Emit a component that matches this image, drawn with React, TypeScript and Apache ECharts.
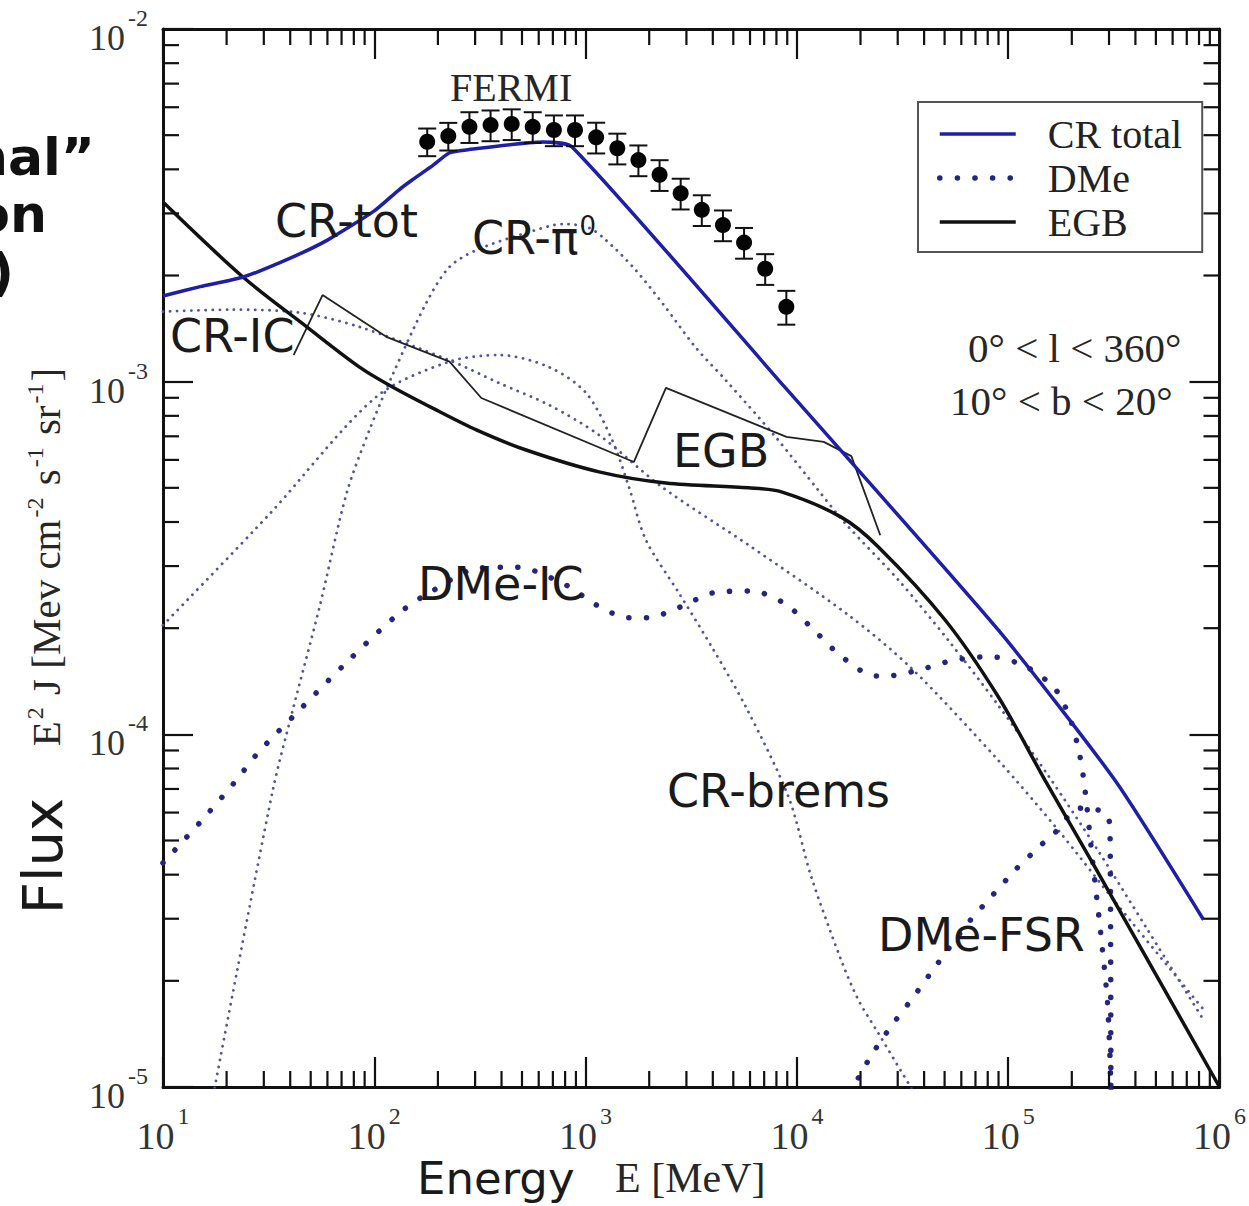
import React, { useEffect, useRef } from 'react';
import * as echarts from 'echarts';

// Axis ranges (log-log)
const X_MIN = 10;
const X_MAX = 1e6;
const Y_MIN = 1e-5;
const Y_MAX = 1e-2;
const xDecades = [1, 2, 3, 4, 5, 6];
const yDecades = [-5, -4, -3, -2];

// Model curves: [E (MeV), E^2 J (MeV cm^-2 s^-1 sr^-1)]
const crTotal: number[][] = [
  [10, 1.75e-3], [15, 1.86e-3], [24, 1.98e-3], [40, 2.24e-3], [60, 2.52e-3], [100, 3.05e-3],
  [131, 3.5e-3], [151, 3.73e-3], [190, 4.11e-3], [226, 4.45e-3], [272, 4.54e-3], [623, 4.78e-3],
  [863, 4.63e-3], [8830, 9.6e-4], [8.95e4, 1.98e-4], [3.19e5, 7.43e-5], [8.4e5, 2.98e-5],
];

const crPi0: number[][] = [
  [17.3, 9.5e-6], [33.1, 6.95e-5], [41.1, 1.17e-4], [55.1, 2.3e-4], [74, 4.83e-4], [94.9, 7.3e-4],
  [122, 1.045e-3], [176, 1.67e-3], [226, 2.11e-3], [304, 2.36e-3], [523, 2.64e-3], [791, 2.8e-3],
  [1038, 2.73e-3], [1248, 2.52e-3], [1693, 2.1e-3], [2344, 1.65e-3], [3319, 1.25e-3], [4603, 1.01e-3],
  [7925, 6.97e-4], [1.26e4, 4.93e-4], [1.69e4, 3.97e-4], [3.02e4, 2.74e-4], [5.2e4, 1.85e-4],
  [8.96e4, 1.21e-4], [1.54e5, 7.67e-5], [2.65e5, 4.7e-5], [4.57e5, 2.79e-5], [8.4e5, 1.55e-5],
];

const crIC: number[][] = [
  [10, 1.58e-3], [20.7, 1.6e-3], [44.3, 1.57e-3], [85, 1.43e-3], [227, 1.15e-3], [390, 9.91e-4],
  [671, 8.59e-4], [1157, 7.06e-4], [2296, 5.03e-4], [5907, 3.44e-4], [1.75e4, 2.18e-4],
  [3.48e4, 1.54e-4], [8.96e4, 8.45e-5], [1.72e5, 5.36e-5], [3.3e5, 3.28e-5], [8.4e5, 1.66e-5],
];

const crBrems: number[][] = [
  [10, 2.04e-4], [32, 4.22e-4], [102, 9.05e-4], [227, 1.14e-3], [390, 1.19e-3], [671, 1.1e-3],
  [1005, 9.29e-4], [1334, 6.84e-4], [1603, 5.03e-4], [1928, 3.56e-4], [2761, 2.52e-4],
  [3953, 1.77e-4], [5716, 1.2e-4], [9120, 6.65e-5], [1.17e4, 3.94e-5], [1.62e4, 2.29e-5],
  [1.95e4, 1.77e-5], [2.43e4, 1.42e-5], [3.56e4, 9.7e-6],
];

const dmeIC: number[][] = [
  [10, 4.32e-5], [14.9, 5.61e-5], [21.9, 7.33e-5], [28.1, 8.85e-5], [42.9, 1.15e-4], [74, 1.6e-4],
  [131.6, 2.21e-4], [182, 2.52e-4], [314, 2.96e-4], [469, 2.98e-4], [808, 2.65e-4], [1120, 2.33e-4],
  [1603, 2.14e-4], [1950, 2.14e-4], [2820, 2.3e-4], [4035, 2.52e-4], [6040, 2.55e-4], [8650, 2.36e-4],
  [1.17e4, 2.01e-4], [1.54e4, 1.71e-4], [2.11e4, 1.49e-4], [2.56e4, 1.46e-4], [3.75e4, 1.52e-4],
  [5.48e4, 1.62e-4], [8.2e4, 1.66e-4], [1.2e5, 1.56e-4], [1.66e5, 1.35e-4], [1.96e5, 1.11e-4],
  [2.18e5, 8.74e-5], [2.31e5, 6.95e-5], [2.51e5, 4.35e-5], [2.74e5, 2.73e-5], [2.96e5, 1.69e-5],
  [3.07e5, 9.5e-6],
];

const dmeFSR: number[][] = [
  [1.78e4, 9.6e-6], [2.25e4, 1.23e-5], [2.8e4, 1.49e-5], [3.56e4, 1.8e-5], [4.51e4, 2.19e-5],
  [6.46e4, 2.92e-5], [8.3e4, 3.46e-5], [1.09e5, 4.15e-5], [1.45e5, 4.89e-5], [1.66e5, 5.25e-5],
  [2.14e5, 6.18e-5], [2.86e5, 6.03e-5], [3.03e5, 5.54e-5], [3.06e5, 9.5e-6],
];

const egbModel: number[][] = [
  [10, 3.23e-3], [23.9, 1.98e-3], [47.9, 1.43e-3], [85.1, 1.1e-3], [122, 9.66e-4], [192, 8.37e-4],
  [304, 7.3e-4], [523, 6.4e-4], [1157, 5.55e-4], [2400, 5.16e-4], [5900, 5.0e-4], [8450, 4.87e-4],
  [1.62e4, 4.13e-4], [2.43e4, 3.4e-4], [5.03e4, 2.11e-4], [8.96e4, 1.28e-4], [1.49e5, 7.43e-5],
  [2.57e5, 4.21e-5], [1e6, 1e-5],
];

const egbData: number[][] = [
  [41.5, 1.19e-3], [56.9, 1.76e-3], [114, 1.34e-3], [227, 1.14e-3], [321, 8.99e-4], [1693, 5.92e-4],
  [2400, 9.6e-4], [8930, 6.97e-4], [1.34e4, 6.75e-4], [1.81e4, 6.15e-4], [2.48e4, 3.67e-4],
];

// FERMI measurements with relative 1-sigma errors
const fermiE = [178, 224, 282, 355, 447, 562, 708, 891, 1122, 1413, 1778, 2239, 2818, 3548, 4467, 5623, 7079, 8913];
const fermiFlux = [
  4.79e-3, 4.97e-3, 5.28e-3, 5.34e-3, 5.38e-3, 5.28e-3, 5.17e-3, 5.17e-3, 4.93e-3,
  4.59e-3, 4.25e-3, 3.86e-3, 3.42e-3, 3.07e-3, 2.78e-3, 2.48e-3, 2.09e-3, 1.63e-3,
];
const fermiSigma = [0.09, 0.09, 0.1, 0.1, 0.1, 0.1, 0.1, 0.1, 0.1, 0.1, 0.1, 0.1, 0.1, 0.1, 0.1, 0.1, 0.1, 0.11];

const INK = '#111111';
const BLUE = '#1f1fa6';
const DOT_THIN = '#5252a2';
const DOT_BIG = '#25257e';
const SANS = 'DejaVu Sans';
const SERIF = 'Liberation Serif';
const MINOR_LEN = 16;
const MAJOR_LEN = 30;

function expLabel(v: number) {
  return `{b|10}{s|${Math.round(Math.log10(v))}}`;
}

function buildOption() {
  const minorX: number[][] = [];
  xDecades.slice(0, -1).forEach((d) => {
    for (let m = 2; m <= 9; m++) minorX.push([m * Math.pow(10, d), Y_MIN]);
  });
  const minorY: number[][] = [];
  yDecades.slice(0, -1).forEach((d) => {
    for (let m = 2; m <= 9; m++) minorY.push([X_MIN, m * Math.pow(10, d)]);
  });

  const axisBase = {
    type: 'log',
    logBase: 10,
    axisLine: { show: true, onZero: false, lineStyle: { color: INK, width: 3 } },
    axisTick: { show: true, inside: true, length: MAJOR_LEN, lineStyle: { color: INK, width: 2.2 } },
    splitLine: { show: false },
    minorTick: { show: false },
  };

  const tickStyle = { stroke: INK, lineWidth: 2.2 };

  const thinDots = { type: [0.1, 7], cap: 'round', width: 2.8, color: DOT_THIN };
  const bigDots = { type: [0.1, 17.5], cap: 'round', width: 5.5, color: DOT_BIG };

  const lineSeries = (name: string, data: number[][], lineStyle: any, z: number, smooth: number | boolean) => ({
    name,
    type: 'line',
    data,
    showSymbol: false,
    symbol: 'none',
    smooth,
    lineStyle,
    itemStyle: { color: lineStyle.color },
    z,
    silent: true,
  });

  const sansText = (text: string, x: number, y: number) => ({
    type: 'text',
    x,
    y,
    z: 20,
    style: {
      text,
      fontFamily: SANS,
      fontSize: 46,
      fill: '#1a1a1a',
      align: 'left',
      verticalAlign: 'middle',
      textAlign: 'left',
      textVerticalAlign: 'middle',
    },
  });

  const serifText = (text: string, x: number, y: number, size: number) => ({
    type: 'text',
    x,
    y,
    z: 20,
    style: {
      text,
      fontFamily: SERIF,
      fontSize: size,
      fill: '#262626',
      align: 'left',
      verticalAlign: 'middle',
      textAlign: 'left',
      textVerticalAlign: 'middle',
    },
  });

  const boldCut = (text: string, x: number, y: number) => ({
    type: 'text',
    x,
    y,
    z: 20,
    style: {
      text,
      fontFamily: SANS,
      fontWeight: 'bold',
      fontSize: 52,
      lineHeight: 44,
      fill: '#111',
      align: 'right',
      verticalAlign: 'middle',
      textAlign: 'right',
      textVerticalAlign: 'middle',
    },
  });

  return {
    animation: false,
    backgroundColor: '#ffffff',
    grid: { left: 163, right: 27, top: 29, bottom: 119, containLabel: false },
    legend: {
      data: ['CR total', 'DMe', 'EGB'],
      orient: 'vertical',
      left: 918,
      top: 102,
      padding: [10, 20, 8, 19],
      itemGap: 0,
      itemWidth: 76,
      itemHeight: 20,
      borderColor: '#555',
      borderWidth: 2,
      borderRadius: 0,
      backgroundColor: '#ffffff',
      selectedMode: false,
      itemStyle: { opacity: 0, borderWidth: 0 },
      lineStyle: { width: 'inherit' },
      textStyle: { fontFamily: SERIF, fontSize: 40, color: '#222', lineHeight: 44, padding: [0, 0, 0, 27] },
      z: 30,
    },
    xAxis: [
      {
        ...axisBase,
        min: X_MIN,
        max: X_MAX,
        position: 'bottom',
        axisLabel: {
          margin: 12,
          formatter: expLabel,
          showMinLabel: true,
          showMaxLabel: true,
          rich: {
            b: { fontFamily: SERIF, fontSize: 38, color: '#333', padding: [18, 0, 0, 0] },
            s: { fontFamily: SERIF, fontSize: 24, color: '#333', padding: [0, 0, 22, 3] },
          },
        },
      },
      { ...axisBase, min: X_MIN, max: X_MAX, position: 'top', axisLabel: { show: false } },
    ],
    yAxis: [
      {
        ...axisBase,
        min: Y_MIN,
        max: Y_MAX,
        position: 'left',
        axisLabel: {
          margin: 15,
          formatter: expLabel,
          showMinLabel: true,
          showMaxLabel: true,
          rich: {
            b: { fontFamily: SERIF, fontSize: 36, color: '#333', padding: [18, 0, 0, 0] },
            s: { fontFamily: SERIF, fontSize: 24, color: '#333', padding: [0, 0, 22, 3] },
          },
        },
      },
      { ...axisBase, min: Y_MIN, max: Y_MAX, position: 'right', axisLabel: { show: false } },
    ],
    series: [
      lineSeries('CR-IC', crIC, thinDots, 2, 0.3),
      lineSeries('CR-π0', crPi0, thinDots, 2, 0.3),
      lineSeries('CR-brems', crBrems, thinDots, 2, 0.3),
      lineSeries('DMe', dmeIC, bigDots, 3, 0.3),
      lineSeries('DMe-FSR', dmeFSR, bigDots, 3, 0.2),
      lineSeries('EGB data', egbData, { color: '#222', width: 1.8 }, 4, false),
      lineSeries('EGB', egbModel, { color: INK, width: 3.5 }, 4, 0.3),
      lineSeries('CR total', crTotal, { color: BLUE, width: 3.5 }, 5, 0.2),
      {
        name: 'FERMI errors',
        type: 'custom',
        z: 6,
        silent: true,
        data: fermiE.map((e, i) => [e, fermiFlux[i] * (1 - fermiSigma[i]), fermiFlux[i] * (1 + fermiSigma[i])]),
        renderItem: (_p: any, api: any) => {
          const e = api.value(0);
          const lo = api.coord([e, api.value(1)]);
          const hi = api.coord([e, api.value(2)]);
          const st = { stroke: INK, lineWidth: 2 };
          return {
            type: 'group',
            children: [
              { type: 'line', shape: { x1: lo[0], y1: lo[1], x2: hi[0], y2: hi[1] }, style: st },
              { type: 'line', shape: { x1: lo[0] - 9, y1: lo[1], x2: lo[0] + 9, y2: lo[1] }, style: st },
              { type: 'line', shape: { x1: hi[0] - 9, y1: hi[1], x2: hi[0] + 9, y2: hi[1] }, style: st },
            ],
          };
        },
      },
      {
        name: 'FERMI',
        type: 'scatter',
        z: 7,
        silent: true,
        symbol: 'circle',
        symbolSize: 16,
        itemStyle: { color: '#050505', opacity: 1 },
        data: fermiE.map((e, i) => [e, fermiFlux[i]]),
      },
      {
        name: 'x minor ticks',
        type: 'custom',
        z: 8,
        silent: true,
        clip: false,
        data: minorX,
        renderItem: (_p: any, api: any) => {
          const v = api.value(0);
          const b = api.coord([v, Y_MIN]);
          const t = api.coord([v, Y_MAX]);
          return {
            type: 'group',
            children: [
              { type: 'line', shape: { x1: b[0], y1: b[1], x2: b[0], y2: b[1] - MINOR_LEN }, style: tickStyle },
              { type: 'line', shape: { x1: t[0], y1: t[1], x2: t[0], y2: t[1] + MINOR_LEN }, style: tickStyle },
            ],
          };
        },
      },
      {
        name: 'y minor ticks',
        type: 'custom',
        z: 8,
        silent: true,
        clip: false,
        data: minorY,
        renderItem: (_p: any, api: any) => {
          const v = api.value(1);
          const l = api.coord([X_MIN, v]);
          const r = api.coord([X_MAX, v]);
          return {
            type: 'group',
            children: [
              { type: 'line', shape: { x1: l[0], y1: l[1], x2: l[0] + MINOR_LEN, y2: l[1] }, style: tickStyle },
              { type: 'line', shape: { x1: r[0], y1: r[1], x2: r[0] - MINOR_LEN, y2: r[1] }, style: tickStyle },
            ],
          };
        },
      },
    ],
    graphic: [
      // curve labels
      sansText('CR-tot', 275, 221),
      {
        type: 'text',
        x: 472,
        y: 238,
        z: 20,
        style: {
          text: '{a|CR-π}{b|0}',
          align: 'left',
          verticalAlign: 'middle',
          textAlign: 'left',
          textVerticalAlign: 'middle',
          rich: {
            a: { fontFamily: SANS, fontSize: 46, fill: '#1a1a1a' },
            b: { fontFamily: SANS, fontSize: 26, fill: '#1a1a1a', padding: [0, 0, 24, 1] },
          },
        },
      },
      sansText('CR-IC', 170, 336),
      sansText('EGB', 673, 451),
      sansText('DMe-IC', 418, 584),
      sansText('CR-brems', 667, 791),
      sansText('DMe-FSR', 878, 935),
      serifText('FERMI', 450, 87, 40),
      serifText('0° < l < 360°', 968, 348, 41),
      serifText('10° < b < 20°', 950, 401, 41),
      // axis titles
      {
        type: 'text',
        x: 417,
        y: 1178,
        z: 20,
        style: {
          text: 'Energy',
          fontFamily: SANS,
          fontSize: 45,
          fill: '#1a1a1a',
          align: 'left',
          verticalAlign: 'middle',
          textAlign: 'left',
          textVerticalAlign: 'middle',
        },
      },
      serifText('E [MeV]', 615, 1178, 42),
      {
        type: 'text',
        x: 42,
        y: 856,
        rotation: Math.PI / 2,
        z: 20,
        style: {
          text: 'Flux',
          fontFamily: SANS,
          fontSize: 56,
          fill: '#1a1a1a',
          align: 'center',
          verticalAlign: 'middle',
          textAlign: 'center',
          textVerticalAlign: 'middle',
        },
      },
      {
        type: 'text',
        x: 46,
        y: 557,
        rotation: Math.PI / 2,
        z: 20,
        style: {
          text: '{t|E}{s|2}{t| J [Mev cm}{s|-2}{t| s}{s|-1}{t| sr}{s|-1}{t|]}',
          align: 'center',
          verticalAlign: 'middle',
          textAlign: 'center',
          textVerticalAlign: 'middle',
          rich: {
            t: { fontFamily: SERIF, fontSize: 41, fill: '#262626' },
            s: { fontFamily: SERIF, fontSize: 24, fill: '#262626', padding: [0, 2, 22, 2] },
          },
        },
      },
      // slide text running in from the left edge
      boldCut('nal”', 95, 157),
      boldCut('on', 47, 214),
      boldCut(')', 14, 272),
    ],
  };
}

export default function App() {
  const ref = useRef<HTMLDivElement>(null);
  useEffect(() => {
    if (!ref.current) return;
    const chart = echarts.init(ref.current, null, { renderer: 'svg' });
    chart.setOption(buildOption() as any);
    return () => chart.dispose();
  }, []);
  return (
    <div
      ref={ref}
      style={{ position: 'absolute', left: 0, top: 0, width: 1249, height: 1206, background: '#ffffff' }}
    />
  );
}
